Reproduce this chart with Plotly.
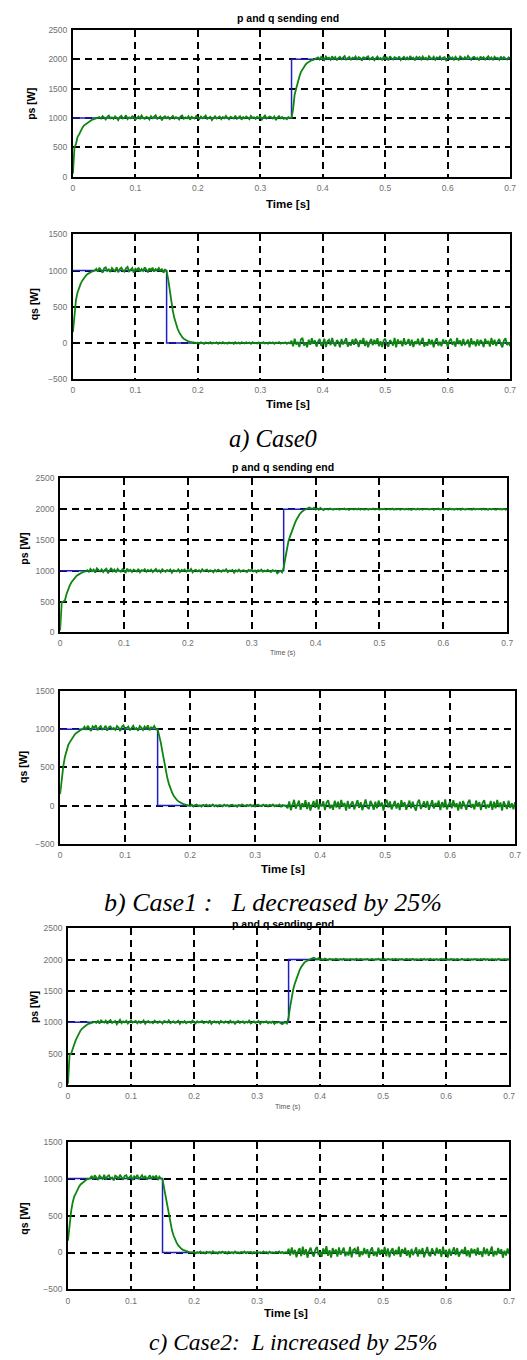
import plotly.graph_objects as go

# Logged signals are sampled every 2.5 ms over 0 .. 0.7 s (281 samples)
DT = 0.0025

# Reference set-points (step commands)
p_ref_t = [0, 0.35, 0.35, 0.7]
p_ref_v = [1000, 1000, 2000, 2000]
q_ref_t = [0, 0.15, 0.15, 0.7]
q_ref_v = [1000, 1000, 0, 0]

# ---------------- Case0 ----------------
# active power: start-up (0..0.04 s), 1 kW hold, step to 2 kW (0.35..0.39 s), 2 kW hold
ps0_rise = [50, 500, 560, 680, 720, 790, 830, 870, 890, 920, 940, 950, 965, 975, 985, 990, 995]
ps0_low = [1015, 990, 1030, 1005, 975, 1020, 1040, 995, 1010, 985,
           1025, 1000, 965, 1015, 1035, 990, 1005, 1045, 980, 1010,
           995, 1030, 1015, 970, 1005, 1025, 990, 1040, 1000, 985,
           1020, 1010, 975, 1030, 995, 1015, 1045, 985, 1005, 1025,
           960, 1010, 1030, 995, 1020, 980, 1005, 1035, 990, 1015,
           1000, 975, 1025, 1040, 985, 1010, 995, 1030, 970, 1020,
           1005, 990, 1035, 1010, 980, 1025, 995, 1015, 1040, 985,
           1000, 1020, 965, 1010, 1030, 990, 1005, 1025, 980, 1015,
           995, 1035, 1000, 975, 1020, 1010, 990, 1040, 985, 1005,
           1030, 970, 1015, 995, 1025, 1005, 980, 1035, 1000, 1010,
           985, 1020, 995, 1030, 975, 1010, 1040, 990, 1005, 1025,
           1010, 990, 1025, 965, 1005, 1030, 995, 1015, 985, 1000,
           980, 1015, 1000]
ps0_step = [1000, 1150, 1400, 1500, 1620, 1700, 1780, 1830, 1870, 1910, 1935, 1955, 1970, 1985,
            1990, 2000, 2010]
ps0_high = [2030, 1995, 2040, 2015, 1985, 2045, 2010, 2025, 1990, 2050,
            2005, 2035, 1980, 2020, 2040, 2000, 2030, 2055, 1995, 2015,
            2040, 1985, 2025, 2010, 2045, 1990, 2035, 2020, 1975, 2040,
            2005, 2030, 2050, 1995, 2015, 2035, 1985, 2025, 2045, 2000,
            2020, 1990, 2040, 2010, 2030, 1980, 2050, 2015, 1995, 2035,
            2025, 2005, 2045, 1985, 2020, 2040, 2000, 2030, 1990, 2055,
            2010, 2025, 1980, 2040, 2015, 2035, 1995, 2045, 2005, 2025,
            1985, 2050, 2020, 2000, 2040, 1990, 2030, 2015, 2045, 1995,
            2025, 2035, 1980, 2020, 2050, 2005, 2030, 1990, 2040, 2010,
            1985, 2045, 2020, 2000, 2035, 1995, 2055, 2015, 1990, 2030,
            2040, 2005, 2025, 1980, 2045, 2010, 2035, 1995, 2020, 2050,
            2000, 2030, 1985, 2040, 2015, 2025, 1990, 2045, 2005, 2035,
            2010, 1995, 2030, 2020]

# reactive power: start-up, 1 kvar hold, decay after 0.15 s, quiet zero, noisy zero after 0.35 s
qs0_rise = [150, 400, 600, 700, 780, 820, 860, 900, 920, 945, 960, 975, 985, 990, 1000]
qs0_hold = [1025, 985, 1040, 1005, 970, 1030, 1045, 995, 1015, 980,
            1035, 1010, 990, 1045, 975, 1020, 1040, 1000, 985, 1030,
            1050, 990, 1015, 1035, 970, 1025, 1005, 1040, 985, 1020,
            995, 1045, 1010, 975, 1030, 1000, 1040, 985, 1020, 1005,
            1035, 990, 1025, 970, 1010, 990]
qs0_decay = [880, 720, 560, 440, 340, 260, 200, 150, 110, 80, 60, 45, 32, 22, 15, 10, 6, 3, 0]
qs0_quiet = [5, -8, 10, -3, -12, 7, 2, -6, 11, -9,
             4, -2, 9, -11, 6, -5, 12, -7, 1, -10,
             8, -4, 3, -12, 10, -6, 5, -9, 11, -2,
             -7, 9, -3, 6, -11, 12, -5, 2, -8, 7,
             -10, 4, 11, -6, 1, -9, 8, -3, 10, -12,
             6, -1, 12, -8, 3, -5, 9, -10, 7, -4]
qs0_noisy = [30, -45, 60, -20, 15, -55, 50, 70, -35, 10,
             -60, 45, -25, 65, -10, 35, -50, 20, 55, -40,
             -15, 60, -55, 25, 45, -30, 70, -5, -45, 40,
             15, -60, 55, -20, 35, 65, -50, 5, -35, 50,
             -25, 60, 20, -55, 40, -10, 70, -40, 30, -60,
             10, 55, -30, 45, -15, 65, -45, 25, -55, 35,
             60, -20, -50, 40, 15, -35, 70, -60, 50, -10,
             30, -45, 65, -25, 5, 55, -40, 45, -55, 20,
             -15, 60, -30, 35, 70, -50, 10, -40, 55, -20,
             45, -60, 25, 65, -35, 15, -45, 50, -10, 40,
             -55, 30, 60, -25, 20, -50, 70, -15, 35, -40,
             55, -30, 10, 45, -60, 65, -20, 25, -45, 50,
             -35, 40, 15, -55, 60, -10, 30, -50, 70, -25,
             45, -40, 20, 55, -15, -60, 35, 65, -30, 10,
             -45]

# ---------------- Case1 : L - 25 % ----------------
ps1_rise = [30, 490, 500, 520, 620, 700, 760, 810, 850, 880, 910, 930, 950, 965, 975, 985, 990]
ps1_low = [1010, 985, 1030, 995, 1020, 970, 1040, 1005, 990, 1025,
           980, 1015, 1035, 960, 1010, 1045, 990, 1020, 975, 1030,
           1000, 985, 1025, 1010, 965, 1035, 995, 1015, 980, 1020,
           1005, 990, 1030, 975, 1010, 1000, 1025, 985, 1015, 995,
           1020, 980, 1005, 1030, 990, 1010, 975, 1025, 1000, 985,
           1015, 995, 1020, 970, 1010, 1005, 990, 1025, 980, 1015,
           1000, 1020, 985, 1010, 995, 1030, 975, 1005, 1015, 990,
           1010, 980, 1025, 995, 1005, 1020, 985, 1010, 1000, 975,
           1015, 990, 1020, 1005, 985, 1010, 995, 1025, 980, 1005,
           1000, 1015, 970, 1010, 990, 1020, 985, 1005, 1010, 995,
           980, 1015, 1000, 1025, 990, 1005, 975, 1010, 995, 1020,
           985, 1005, 990, 1015, 1000, 980, 1010, 995, 1005, 960,
           985, 1000, 975]
ps1_step = [1050, 1200, 1350, 1480, 1560, 1640, 1710, 1770, 1830, 1880, 1920, 1950, 1975, 1990,
            2000, 2020, 2030]
ps1_high = [2015, 2005, 2025, 1995, 2010, 1990, 2020, 2000, 1985, 2010,
            2005, 1995, 2012, 2000, 1992, 2008, 1998, 2010, 1994, 2005,
            2000, 2012, 1996, 2006, 1990, 2010, 2002, 1995, 2008, 1998,
            2011, 1993, 2004, 2000, 1996, 2009, 1992, 2006, 1999, 2012,
            1995, 2003, 2008, 1991, 2005, 1998, 2010, 1994, 2002, 2007,
            1996, 2011, 1993, 2004, 1999, 2009, 1992, 2006, 2001, 1995,
            2010, 1997, 2004, 1990, 2008, 2000, 1994, 2011, 1996, 2005,
            1992, 2007, 1999, 2010, 1995, 2003, 2009, 1991, 2006, 1998,
            2012, 1994, 2002, 2008, 1996, 2005, 1990, 2010, 1999, 2004,
            1993, 2009, 1997, 2006, 1991, 2011, 2000, 1995, 2007, 1998,
            2003, 1992, 2010, 1996, 2005, 1999, 2008, 1994, 2012, 1997,
            2002, 1991, 2009, 1995, 2006, 2000, 1993, 2010, 1998, 2004,
            1996, 2008, 1992, 2005]

qs1_rise = [150, 350, 520, 640, 720, 790, 830, 870, 900, 930, 950, 970, 980, 995, 1000]
qs1_hold = [1030, 990, 1045, 1005, 975, 1035, 1015, 1050, 985, 1020,
            1040, 995, 1010, 1045, 980, 1025, 1035, 1000, 1015, 990,
            1040, 1020, 975, 1030, 1050, 995, 1010, 1035, 985, 1025,
            1045, 1000, 1015, 980, 1040, 1020, 990, 1035, 1005, 1050,
            985, 1025, 1010, 1040, 995, 1000]
qs1_decay = [920, 820, 700, 570, 460, 360, 280, 215, 165, 125, 95, 70, 52, 38, 27, 18, 12, 7, 3]
qs1_quiet = [-6, 10, -12, 4, 13, -8, 2, -14, 9, -3,
             11, -10, 6, -5, 15, -9, 3, -12, 8, -1,
             -11, 12, -4, 7, -13, 5, 10, -7, 1, -15,
             9, -6, 14, -2, -10, 8, -5, 12, -9, 3,
             -13, 6, 11, -4, -8, 13, -1, 7, -12, 10,
             -3, 14, -10, 5, -6, 12, -14, 8, 2, -9]
qs1_noisy = [-35, 55, -60, 20, 75, -40, 10, 65, -55, 30,
             -20, 70, -45, 45, -65, 15, 60, -30, 80, -50,
             25, -10, 55, -60, 40, 70, -35, 5, -55, 65,
             -25, 50, -45, 75, -15, 35, -65, 60, -40, 20,
             55, -50, 10, 70, -30, 45, -60, 25, 80, -20,
             -45, 60, 15, -55, 50, -35, 65, -10, 40, -65,
             30, 75, -25, 55, -50, 5, 60, -40, 35, -60,
             70, -15, 45, -55, 20, 65, -35, 50, -20, -65,
             40, 75, -45, 10, 55, -30, 60, -55, 25, 70,
             -40, 35, -10, 65, -60, 45, -25, 80, -50, 15,
             55, -35, 70, -20, 30, -65, 50, -45, 60, 5,
             -55, 40, 75, -30, 20, -50, 65, -15, 45, -60,
             35, 70, -40, 10, -25, 60, -55, 50, -35, 75,
             -20, 40, -65, 55, 15, -45, 65, -30, 30, -50,
             45]

# ---------------- Case2 : L + 25 % ----------------
ps2_rise = [20, 480, 500, 560, 650, 720, 780, 830, 870, 900, 925, 945, 960, 975, 985, 990, 995]
ps2_low = [1005, 990, 1020, 980, 1030, 1010, 995, 1025, 975, 1015,
           1035, 990, 1005, 1020, 970, 1010, 1040, 985, 1015, 1000,
           1025, 980, 1010, 1030, 995, 1005, 1020, 985, 1015, 990,
           1000, 1030, 975, 1010, 1020, 995, 1005, 985, 1025, 1000,
           990, 1015, 1005, 980, 1020, 1010, 995, 1030, 985, 1005,
           1015, 990, 1000, 1025, 975, 1010, 995, 1020, 985, 1005,
           1010, 990, 1025, 1000, 980, 1015, 995, 1005, 1020, 985,
           1000, 1010, 990, 1030, 975, 1005, 1015, 995, 1010, 980,
           1020, 1000, 990, 1015, 1005, 985, 1025, 995, 1010, 975,
           1005, 1020, 990, 1000, 1015, 985, 1010, 995, 1025, 980,
           1000, 1015, 990, 1005, 1020, 975, 1010, 995, 1000, 1015,
           985, 1005, 990, 1010, 975, 1000, 995, 1005, 985, 970,
           990, 1000, 980]
ps2_step = [1080, 1250, 1420, 1530, 1620, 1700, 1770, 1830, 1880, 1920, 1950, 1970, 1985, 1995,
            2005, 2020, 2030]
ps2_high = [2012, 2000, 2020, 1995, 2008, 1992, 2015, 2002, 1990, 2010,
            1998, 2006, 1994, 2011, 2000, 1993, 2008, 1997, 2012, 1995,
            2004, 1991, 2009, 1999, 2006, 1993, 2011, 1996, 2003, 2008,
            1992, 2005, 1998, 2010, 1994, 2002, 2009, 1991, 2006, 1999,
            2012, 1995, 2004, 1997, 2008, 1990, 2010, 2001, 1994, 2007,
            1996, 2011, 1993, 2005, 1999, 2009, 1992, 2003, 2010, 1995,
            2006, 1998, 2012, 1991, 2004, 2000, 1994, 2008, 1997, 2011,
            1993, 2005, 1999, 2010, 1992, 2006, 1996, 2009, 1990, 2003,
            2011, 1995, 2007, 1998, 2004, 1993, 2010, 1997, 2005, 1991,
            2008, 2000, 1994, 2012, 1996, 2003, 1999, 2009, 1992, 2006,
            1995, 2010, 1998, 2004, 1991, 2008, 1997, 2011, 1994, 2005,
            2000, 1993, 2009, 1996, 2006, 1990, 2010, 1999, 2003, 1995,
            2008, 1997, 2004, 1999]

qs2_rise = [160, 380, 560, 680, 760, 800, 850, 890, 920, 940, 960, 975, 990, 995, 1000]
qs2_hold = [1035, 990, 1045, 1010, 980, 1040, 1020, 995, 1050, 985,
            1030, 1045, 1000, 1015, 975, 1040, 1025, 990, 1050, 1010,
            985, 1035, 1045, 995, 1020, 1040, 980, 1030, 1010, 1050,
            990, 1025, 1045, 1000, 1035, 985, 1020, 1045, 995, 1030,
            1010, 1040, 980, 1025, 1000, 990]
qs2_decay = [870, 760, 630, 500, 390, 300, 230, 175, 130, 95, 70, 50, 36, 25, 17, 11, 6, 3, 1]
qs2_quiet = [7, -11, 4, -6, 13, -9, 2, -14, 10, -3,
             8, -12, 15, -5, 1, -13, 9, -7, 12, -2,
             5, -15, 11, -8, 3, -10, 14, -6, 0, -12,
             9, -4, 13, -11, 6, -1, 10, -14, 4, -8,
             12, -5, 2, -9, 15, -3, 7, -13, 11, -6,
             1, -10, 8, -2, 14, -7, 5, -12, 3, -9]
qs2_noisy = [50, -40, 70, -25, 35, -65, 15, 60, -50, 80,
             -30, 45, -70, 20, 65, -15, -55, 40, 75, -35,
             10, -60, 55, -20, 85, -45, 30, -70, 60, -10,
             40, -55, 70, -30, 20, 65, -50, 5, -40, 75,
             -65, 35, 50, -25, 80, -60, 15, -35, 60, -20,
             45, -70, 25, 70, -45, 10, -55, 65, -30, 40,
             -15, 75, -50, 55, -65, 20, 60, -40, 35, -25,
             80, -60, 45, -10, 65, -45, 30, -70, 50, -35,
             15, 70, -55, 40, -20, 60, -65, 25, 75, -30,
             -50, 55, 10, -40, 65, -15, 45, -60, 80, -25,
             35, -70, 50, -45, 20, 70, -35, 60, -55, 5,
             40, -20, 75, -50, 30, -65, 55, -10, 45, -40,
             65, -30, 15, -60, 70, -25, 50, -45, 35, 80,
             -55, 20, -35, 60, -15, 45, -70, 25, -40, 55,
             -20]

ps_case0 = ps0_rise + ps0_low + ps0_step + ps0_high
qs_case0 = qs0_rise + qs0_hold + qs0_decay + qs0_quiet + qs0_noisy
ps_case1 = ps1_rise + ps1_low + ps1_step + ps1_high
qs_case1 = qs1_rise + qs1_hold + qs1_decay + qs1_quiet + qs1_noisy
ps_case2 = ps2_rise + ps2_low + ps2_step + ps2_high
qs_case2 = qs2_rise + qs2_hold + qs2_decay + qs2_quiet + qs2_noisy

x_ticks = [0, 0.1, 0.2, 0.3, 0.4, 0.5, 0.6, 0.7]
x_tick_text = ["0", "0.1", "0.2", "0.3", "0.4", "0.5", "0.6", "0.7"]
p_ticks = [0, 500, 1000, 1500, 2000, 2500]
q_ticks = [-500, 0, 500, 1000, 1500]

W, H = 527, 1360
BLUE = "#1f1fc0"
GREEN = "#0e850e"

# panel boxes in pixels: left, right, top, bottom
panels = [
    (72, 516, 25, 173),
    (72, 516, 231, 377),
    (59, 513, 477, 632),
    (59, 521, 691, 845),
    (67, 515, 930, 1088),
    (67, 515, 1145, 1294),
]
series = [
    (p_ref_t, p_ref_v, ps_case0, p_ticks, [0, 2500]),
    (q_ref_t, q_ref_v, qs_case0, q_ticks, [-500, 1500]),
    (p_ref_t, p_ref_v, ps_case1, p_ticks, [0, 2500]),
    (q_ref_t, q_ref_v, qs_case1, q_ticks, [-500, 1500]),
    (p_ref_t, p_ref_v, ps_case2, p_ticks, [0, 2500]),
    (q_ref_t, q_ref_v, qs_case2, q_ticks, [-500, 1500]),
]

fig = go.Figure()
layout = dict(
    width=W, height=H,
    margin=dict(l=0, r=0, t=0, b=0),
    paper_bgcolor="white", plot_bgcolor="white",
    showlegend=False,
    font=dict(family="Liberation Sans, Arial, sans-serif", color="black"),
)

tick_font = dict(family="Liberation Sans, Arial, sans-serif", size=8.5, color="#707070")

for i, ((L, R, T, B), (rt, rv, meas, yt, yr)) in enumerate(zip(panels, series), start=1):
    xa = "x" if i == 1 else f"x{i}"
    ya = "y" if i == 1 else f"y{i}"
    t = [round(k * DT, 5) for k in range(len(meas))]
    fig.add_trace(go.Scatter(x=rt, y=rv, mode="lines", xaxis=xa, yaxis=ya,
                             line=dict(color=BLUE, width=1.5), hoverinfo="skip"))
    fig.add_trace(go.Scatter(x=t, y=meas, mode="lines", xaxis=xa, yaxis=ya,
                             line=dict(color=GREEN, width=1.8), hoverinfo="skip"))
    common = dict(showline=True, mirror=True, linecolor="black", linewidth=1.8,
                  showgrid=True, gridcolor="black", gridwidth=1.5, griddash="7px,5px",
                  zeroline=False, ticks="", tickfont=tick_font, fixedrange=True)
    layout["xaxis" if i == 1 else f"xaxis{i}"] = dict(
        domain=[L / W, R / W], anchor=ya, range=[0, 0.7],
        tickvals=x_ticks, ticktext=x_tick_text, ticklabelstandoff=2, **common)
    layout["yaxis" if i == 1 else f"yaxis{i}"] = dict(
        domain=[1 - B / H, 1 - T / H], anchor=xa, range=yr,
        tickvals=yt, ticklabelstandoff=2, **common)

fig.update_layout(**layout)


def note(text, px, py, size, angle=0, bold=False, italic=False, serif=False, color="black"):
    fam = "Liberation Serif, Times New Roman, serif" if serif else "Liberation Sans, Arial, sans-serif"
    if bold:
        text = f"<b>{text}</b>"
    if italic:
        text = f"<i>{text}</i>"
    fig.add_annotation(text=text, x=px / W, y=1 - py / H, xref="paper", yref="paper",
                       xanchor="center", yanchor="middle", showarrow=False,
                       textangle=angle, font=dict(family=fam, size=size, color=color))


# panel titles
note("p and q sending end", 290, 13, 10.5, bold=True)
note("p and q sending end", 285, 465, 10.5, bold=True)
note("p and q sending end", 285, 926, 10.5, bold=True)

# y-axis titles
note("ps [W]", 30, 100, 10.5, angle=-90, bold=True)
note("qs [W]", 32, 302, 10.5, angle=-90, bold=True)
note("ps [W]", 22, 548, 10.5, angle=-90, bold=True)
note("qs [W]", 22, 768, 10.5, angle=-90, bold=True)
note("ps [W]", 32, 1010, 10.5, angle=-90, bold=True)
note("qs [W]", 22, 1223, 10.5, angle=-90, bold=True)

# x-axis titles
note("Time [s]", 290, 200, 11.5, bold=True)
note("Time [s]", 290, 402, 11.5, bold=True)
note("Time (s)", 285, 653, 7, color="#555555")
note("Time [s]", 285, 870, 11.5, bold=True)
note("Time (s)", 290, 1110, 7, color="#555555")
note("Time [s]", 288, 1318, 11.5, bold=True)

# case captions
note("a) Case0", 275, 437, 24.5, italic=True, serif=True)
note("b) Case1 :&nbsp;&nbsp;&nbsp;L decreased by 25%", 275, 904, 26, italic=True, serif=True)
note("c) Case2:&nbsp;&nbsp;L increased by 25%", 295, 1347, 23.5, italic=True, serif=True)

fig.write_html("out.html")
